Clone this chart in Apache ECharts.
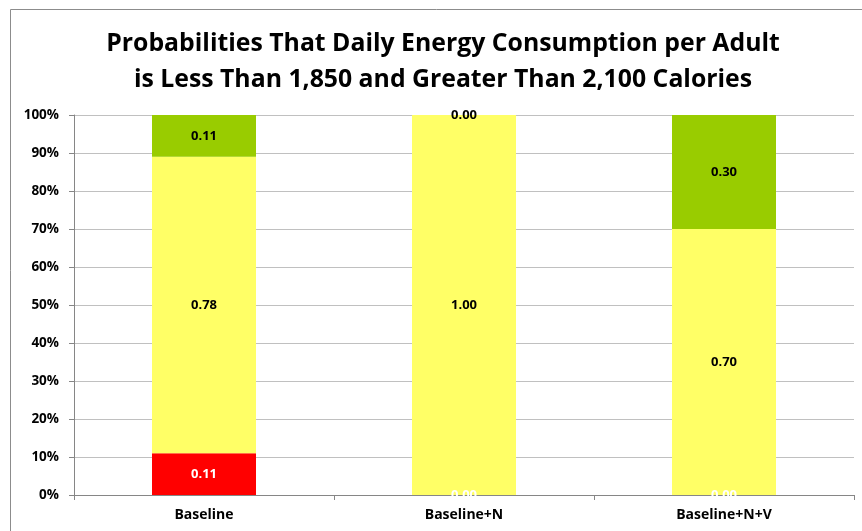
<!DOCTYPE html>
<html><head><meta charset="utf-8">
<script src="https://cdn.jsdelivr.net/npm/echarts@6/dist/echarts.min.js"></script>
<style>html,body{margin:0;padding:0;background:#fff}#c{width:862px;height:531px}</style>
</head><body><div id="c"></div>
<script>
const categories = ['Baseline', 'Baseline+N', 'Baseline+N+V'];
const lessThan1850 = [0.11, 0.00, 0.00];
const between = [0.78, 1.00, 0.70];
const greaterThan2100 = [0.11, 0.00, 0.30];
const seriesNames = ['Less Than 1,850', '1,850 to 2,100', 'Greater Than 2,100'];
const titleText = 'Probabilities That Daily Energy Consumption per Adult\nis Less Than 1,850 and Greater Than 2,100 Calories';

const FONT = '"Open Sans", "Noto Sans", sans-serif';
const chart = echarts.init(document.getElementById('c'));
function lbl(color) {
  return {show: true, position: 'inside', color: color, fontFamily: FONT, fontWeight: 'bold', fontSize: 13,
    formatter: p => p.value.toFixed(2)};
}
chart.setOption({
  animation: false,
  graphic: [{type: 'rect', shape: {x: 10.5, y: 9.5, width: 900, height: 600}, style: {fill: null, stroke: '#8c8c8c', lineWidth: 1}, silent: true}],
  title: {text: titleText, left: 438, top: 21, textAlign: 'center',
    textStyle: {fontFamily: FONT, fontWeight: 'bold', fontSize: 24.8, lineHeight: 36, color: '#000'}},
  grid: {left: 74, right: 8, top: 115, bottom: 36, containLabel: false},
  xAxis: {type: 'category', data: categories,
    axisLine: {lineStyle: {color: '#868686'}},
    axisTick: {show: true, length: 5, lineStyle: {color: '#868686'}},
    axisLabel: {color: '#000', fontFamily: FONT, fontWeight: 'bold', fontSize: 14, margin: 13}},
  yAxis: {type: 'value', min: 0, max: 1, interval: 0.1,
    axisLine: {show: true, lineStyle: {color: '#868686'}},
    axisTick: {show: true, length: 5, lineStyle: {color: '#868686'}},
    splitLine: {lineStyle: {color: '#c0c0c0'}},
    axisLabel: {color: '#000', fontFamily: FONT, fontWeight: 'bold', fontSize: 13.5, margin: 15,
      formatter: v => Math.round(v * 100) + '%'}},
  series: [
    {name: seriesNames[0], type: 'bar', stack: 's', data: lessThan1850, barWidth: '40%', itemStyle: {color: '#FF0000'}, label: lbl('#fff')},
    {name: seriesNames[1], type: 'bar', stack: 's', data: between, itemStyle: {color: '#FFFF66'}, label: lbl('#000')},
    {name: seriesNames[2], type: 'bar', stack: 's', data: greaterThan2100, itemStyle: {color: '#99CC00'}, label: lbl('#000')}
  ]
});
</script></body></html>
